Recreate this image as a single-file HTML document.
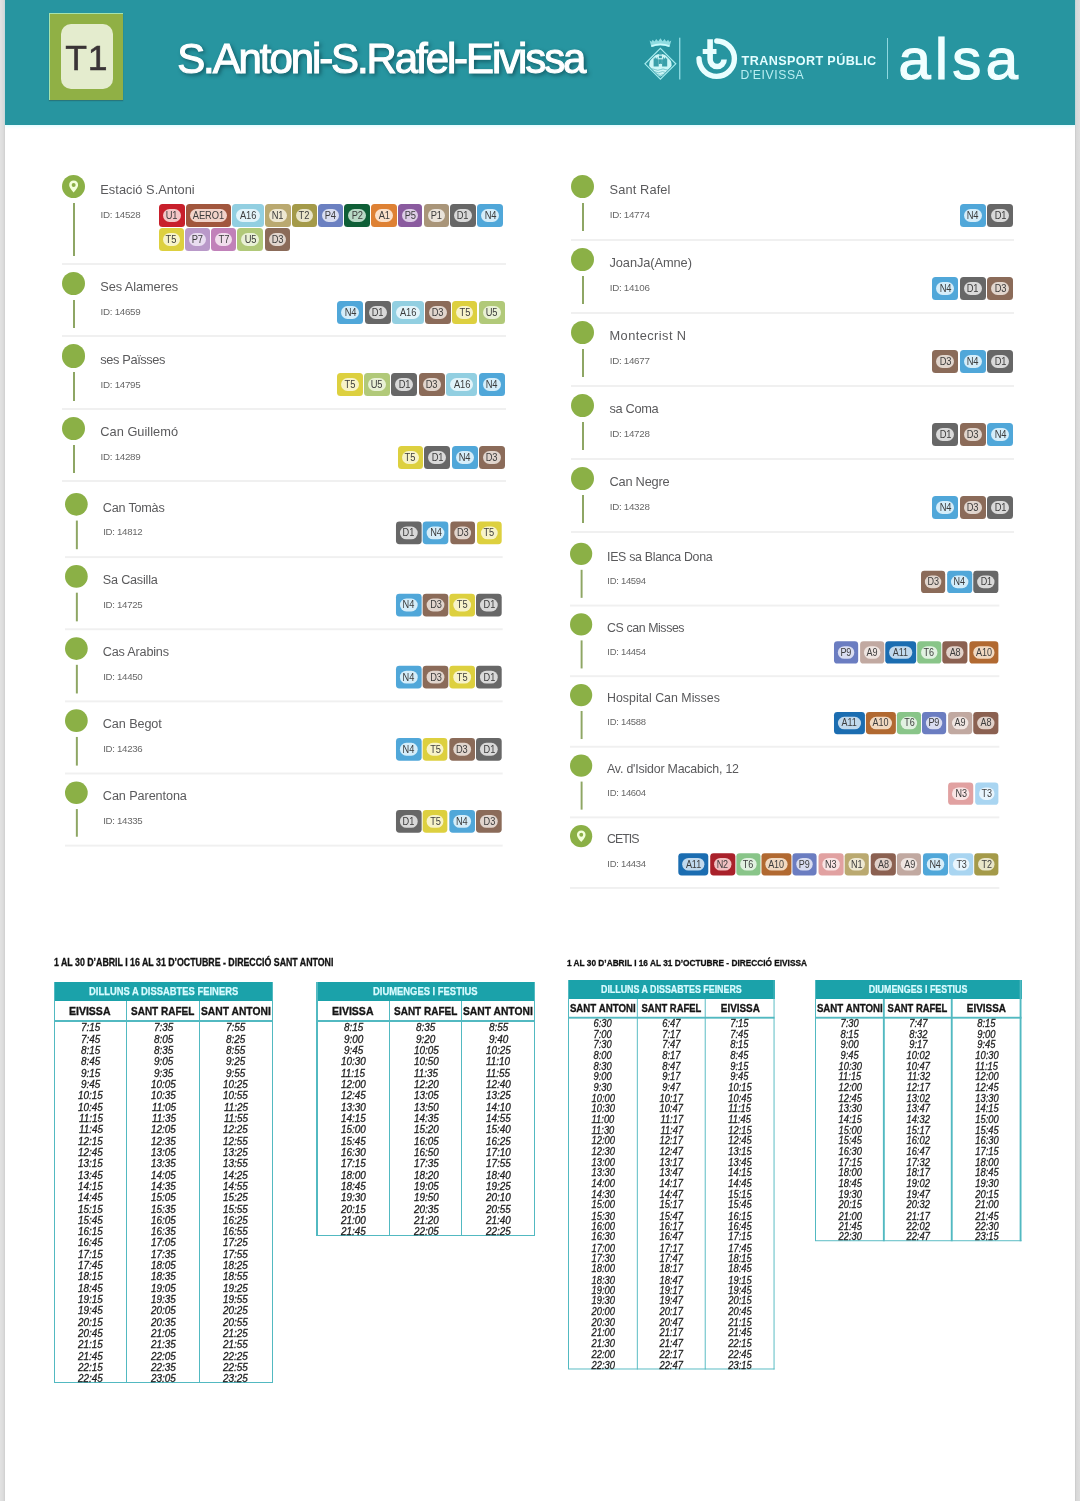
<!DOCTYPE html>
<html lang="ca"><head><meta charset="utf-8"><title>T1 S.Antoni-S.Rafel-Eivissa</title>
<style>
html,body{margin:0;padding:0;background:#fff;}
body{width:1080px;height:1501px;position:relative;overflow:hidden;font-family:"Liberation Sans",sans-serif;}
.abs{position:absolute;}
#page{position:absolute;left:0;top:0;width:1080px;height:1501px;background:#fff;overflow:hidden;}
.edgeL{position:absolute;left:0;top:0;width:5px;height:1501px;background:linear-gradient(90deg,#e2e2e2 0,#dcdcdc 60%,#cfcfcf 100%);}
.edgeR{position:absolute;left:1075px;top:0;width:5px;height:1501px;background:linear-gradient(90deg,#c8c8c8 0,#d8d8d8 30%,#dedede 100%);}
#hdr{position:absolute;left:5px;top:0;width:1070px;height:124.6px;background:#2795a0;box-shadow:0 1px 3px rgba(180,250,255,.5);}
.t1o{position:absolute;left:49.2px;top:12.7px;width:73.9px;height:87.7px;background:#90b045;box-shadow:inset 1px 1px 0 rgba(170,240,200,.8),0 1px 1px rgba(40,90,90,.5);}
.t1i{position:absolute;left:60.7px;top:23.9px;width:51.9px;height:65.1px;border-radius:10px;background:#e4ecce;}
.t1t{position:absolute;left:60.7px;top:26.4px;width:51.9px;height:65px;line-height:65px;text-align:center;font-size:35.6px;color:#3a3436;letter-spacing:0.7px;text-indent:0.2px;-webkit-text-stroke:0.5px #3a3436;}
.title{position:absolute;white-space:nowrap;color:#fff;text-shadow:2px 2px 4px rgba(0,30,40,.6);}
.chunk{position:absolute;transform-origin:0 0;}
.stop{position:absolute;left:0;}
.dot{position:absolute;left:0;top:8px;width:23.3px;height:23.3px;border-radius:50%;background:#8bb046;}
.vl{position:absolute;left:11px;width:1.8px;background:#8ea664;}
.sep{position:absolute;left:0;height:2px;background:#f0f0f0;}
.nm{position:absolute;left:38.3px;white-space:nowrap;font-size:12.8px;color:#5a5a5c;line-height:14px;}
.id{position:absolute;left:38.6px;white-space:nowrap;font-size:9.8px;color:#686868;line-height:10px;letter-spacing:-0.3px;}
.bd{position:absolute;height:23px;border-radius:3.5px;}
.bd i{position:absolute;left:4px;right:4px;top:5px;height:13px;border-radius:6.5px;font-style:normal;font-size:10.4px;line-height:13.6px;text-align:center;color:#3c3c3c;letter-spacing:-0.1px;}
.bd b{display:inline-block;font-weight:normal;transform:scaleX(.9);}
.tt{position:absolute;white-space:nowrap;font-weight:bold;color:#111;transform-origin:0 0;-webkit-text-stroke:0.3px #111;}
.tbl{position:absolute;transform-origin:0 0;}
.band{position:absolute;left:0;top:0;background:#1ba2aa;}
.bt{position:absolute;white-space:nowrap;font-weight:bold;color:#d9fbff;transform-origin:0 0;-webkit-text-stroke:0.25px #d9fbff;}
.ch{position:absolute;white-space:nowrap;font-weight:bold;color:#151515;transform-origin:0 0;-webkit-text-stroke:0.35px #151515;}
.tm{position:absolute;white-space:nowrap;font-style:italic;color:#1c1c1c;transform-origin:0 0;-webkit-text-stroke:0.3px #1c1c1c;}
.ln{position:absolute;background:#52b9c1;}
</style></head><body><div id="page">
<div class="edgeL"></div><div class="edgeR"></div>
<div id="hdr"></div>
<div class="t1o"></div><div class="t1i"></div><div class="t1t">T1</div>

<div class="title" style="left:177.2px;top:34.50px;-webkit-text-stroke:1.1px #fff;font-size:42.0px;line-height:48.30px;letter-spacing:-2.097px;">S.Antoni-S.Rafel-Eivissa</div>
<svg class="abs" style="left:640px;top:30px" width="110" height="60" viewBox="640 30 110 60">
<defs><clipPath id="dm"><path d="M660.4 50.2 L674 63.8 L660.4 77.4 L646.8 63.8 Z"/></clipPath></defs>
<path d="M660.4 48.4 L675.8 63.8 L660.4 79.2 L645 63.8 Z" fill="none" stroke="#a6ecef" stroke-width="1.2"/>
<g clip-path="url(#dm)">
<circle cx="660.4" cy="65.2" r="11.2" fill="#cdf6f7"/>
<g fill="#3a9fa9">
<path d="M653.6 66.6 V58.6 h1.2 v-1.2 h1 v1.2 h1 v-1.2 h1 v1.2 h0.9 V66.6 Z"/>
<path d="M662.1 66.6 V58.6 h0.9 v-1.2 h1 v1.2 h1 v-1.2 h1 v1.2 h1.2 V66.6 Z"/>
<path d="M658.9 64 V51.5 h3 V64 Z"/>
<rect x="657.6" y="54.6" width="5.6" height="1.1" fill="#cdf6f7"/>
<rect x="657.6" y="58.2" width="5.6" height="1.1" fill="#cdf6f7"/>
</g>
<path d="M659.4 66.6 V64.6 L660.4 63.4 L661.4 64.6 V66.6 Z" fill="#cdf6f7"/>
<g fill="none" stroke="#58b3bc" stroke-width="0.7">
<path d="M650 69.6 q2.6 -1.4 5.2 0 t5.2 0 t5.2 0 t5.2 0"/>
<path d="M652 72.2 q2.1 -1.3 4.2 0 t4.2 0 t4.2 0 t4.2 0"/>
<path d="M655 74.8 q1.8 -1.2 3.6 0 t3.6 0 t3.6 0"/>
</g>
</g>
<g fill="#a9eef1">
<path d="M649.6 40.6 L651.6 41.8 L652.6 39.8 L654.6 41.6 L656.2 39 L658.2 41.2 L660.4 38.2 L662.6 41.2 L664.6 39 L666.2 41.6 L668.2 39.8 L669.2 41.8 L671.3 40.6 L669.4 47 Q660.4 43.4 651.4 47 Z" opacity=".8"/>
<path d="M651.2 45.2 Q660.4 41.6 669.6 45.2 L669.3 47.1 Q660.4 43.6 651.5 47.1 Z" fill="#c9fbfc"/>
</g>
<rect x="679" y="37.7" width="1.4" height="41.8" fill="#8ad8df"/>
<g fill="none" stroke="#e9feff">
<path d="M716.8 41 A17.7 17.7 0 1 1 699 58.6" stroke-width="5.4" stroke-linecap="round"/>
<path d="M710.1 39.2 V59.5 A7 7 0 0 0 724.1 59.5" stroke-width="5.6"/>
<path d="M702.7 51.5 H716.5" stroke-width="5"/>
</g>
</svg>
<div class="abs" style="left:741.6px;top:54.1px;font-size:12.6px;line-height:15px;font-weight:bold;color:#e3fdff;white-space:nowrap;letter-spacing:0.39px;">TRANSPORT PÚBLIC</div>
<div class="abs" style="left:740.4px;top:68.2px;font-size:12.2px;line-height:15px;color:#b9eef2;white-space:nowrap;letter-spacing:0.6px;">D'EIVISSA</div>
<div class="abs" style="left:886.8px;top:37.5px;width:1.5px;height:41.8px;background:#8fd8e0;"></div>
<div class="abs" style="left:898.4px;top:23.5px;font-size:58px;line-height:70px;color:#f1ffff;white-space:nowrap;letter-spacing:4.4px;-webkit-text-stroke:1.2px #f1ffff;">alsa</div>

<div class="chunk" style="left:62px;top:166.5px;transform:scale(1);">
<div class="stop" style="top:0.00px;width:443.7px;height:97.25px;">
<div class="dot"></div>
<svg class="abs" style="left:0;top:8px" width="23.3" height="23.3" viewBox="0 0 23.3 23.3"><path fill="#f3ffd9" fill-rule="evenodd" d="M11.65 5.6 C14.3 5.6 16.1 7.5 16.1 9.9 C16.1 12.6 13.2 15.6 11.65 17.4 C10.1 15.6 7.2 12.6 7.2 9.9 C7.2 7.5 9 5.6 11.65 5.6 Z M11.65 8 A2 2 0 1 0 11.65 12 A2 2 0 1 0 11.65 8 Z"/></svg>
<div class="vl" style="top:36px;height:53.05px;"></div>
<div class="nm" style="top:16.31px;letter-spacing:0.033px;">Estació S.Antoni</div>
<div class="id" style="top:43.40px;">ID: 14528</div>
<div class="bd" style="left:96.70px;top:37.20px;width:26.2px;background:#c81f2b;"><i style="background:#f3c6c6;"><b>U1</b></i></div>
<div class="bd" style="left:124.30px;top:37.20px;width:44.5px;background:#a1563d;"><i style="background:#f1d3c9;"><b>AERO1</b></i></div>
<div class="bd" style="left:170.20px;top:37.20px;width:31.4px;background:#92cfe1;"><i style="background:#e2f4fa;"><b>A16</b></i></div>
<div class="bd" style="left:203.00px;top:37.20px;width:25.6px;background:#baa970;"><i style="background:#eee8d2;"><b>N1</b></i></div>
<div class="bd" style="left:230.00px;top:37.20px;width:24.8px;background:#a49a49;"><i style="background:#e9e5c9;"><b>T2</b></i></div>
<div class="bd" style="left:256.20px;top:37.20px;width:24.6px;background:#6b80c1;"><i style="background:#d9def1;"><b>P4</b></i></div>
<div class="bd" style="left:282.20px;top:37.20px;width:25.4px;background:#0f5f37;"><i style="background:#b9d9c6;"><b>P2</b></i></div>
<div class="bd" style="left:309.00px;top:37.20px;width:25.6px;background:#de8134;"><i style="background:#fbe1ca;"><b>A1</b></i></div>
<div class="bd" style="left:336.00px;top:37.20px;width:24.4px;background:#8a5b9f;"><i style="background:#ddcde6;"><b>P5</b></i></div>
<div class="bd" style="left:361.80px;top:37.20px;width:24.8px;background:#a99579;"><i style="background:#e9e2d9;"><b>P1</b></i></div>
<div class="bd" style="left:388.00px;top:37.20px;width:26.0px;background:#676767;"><i style="background:#d9d9d9;"><b>D1</b></i></div>
<div class="bd" style="left:415.40px;top:37.20px;width:26.0px;background:#50a7d9;"><i style="background:#d5edf9;"><b>N4</b></i></div>
<div class="bd" style="left:96.70px;top:61.60px;width:25.3px;background:#ddd03f;"><i style="background:#f7f3c9;"><b>T5</b></i></div>
<div class="bd" style="left:123.40px;top:61.60px;width:24.6px;background:#b999c9;"><i style="background:#e9ddf1;"><b>P7</b></i></div>
<div class="bd" style="left:149.40px;top:61.60px;width:24.4px;background:#c181b9;"><i style="background:#f1ddec;"><b>T7</b></i></div>
<div class="bd" style="left:175.20px;top:61.60px;width:25.9px;background:#b1c979;"><i style="background:#e9f1d5;"><b>U5</b></i></div>
<div class="bd" style="left:202.50px;top:61.60px;width:25.8px;background:#8b6b59;"><i style="background:#e1d5cd;"><b>D3</b></i></div>
<div class="sep" style="top:96.25px;width:443.7px;"></div>
</div>
<div class="stop" style="top:97.25px;width:443.7px;height:72.50px;">
<div class="dot"></div>
<div class="vl" style="top:36px;height:28.30px;"></div>
<div class="nm" style="top:16.31px;letter-spacing:-0.109px;">Ses Alameres</div>
<div class="id" style="top:43.40px;">ID: 14659</div>
<div class="bd" style="left:416.90px;top:37.2px;width:25.9px;background:#b1c979;"><i style="background:#e9f1d5;"><b>U5</b></i></div>
<div class="bd" style="left:390.20px;top:37.2px;width:25.3px;background:#ddd03f;"><i style="background:#f7f3c9;"><b>T5</b></i></div>
<div class="bd" style="left:363.00px;top:37.2px;width:25.8px;background:#8b6b59;"><i style="background:#e1d5cd;"><b>D3</b></i></div>
<div class="bd" style="left:330.20px;top:37.2px;width:31.4px;background:#92cfe1;"><i style="background:#e2f4fa;"><b>A16</b></i></div>
<div class="bd" style="left:302.80px;top:37.2px;width:26.0px;background:#676767;"><i style="background:#d9d9d9;"><b>D1</b></i></div>
<div class="bd" style="left:275.40px;top:37.2px;width:26.0px;background:#50a7d9;"><i style="background:#d5edf9;"><b>N4</b></i></div>
<div class="sep" style="top:71.50px;width:443.7px;"></div>
</div>
<div class="stop" style="top:169.75px;width:443.7px;height:72.50px;">
<div class="dot"></div>
<div class="vl" style="top:36px;height:28.30px;"></div>
<div class="nm" style="top:16.31px;letter-spacing:-0.380px;">ses Païsses</div>
<div class="id" style="top:43.40px;">ID: 14795</div>
<div class="bd" style="left:416.80px;top:37.2px;width:26.0px;background:#50a7d9;"><i style="background:#d5edf9;"><b>N4</b></i></div>
<div class="bd" style="left:384.00px;top:37.2px;width:31.4px;background:#92cfe1;"><i style="background:#e2f4fa;"><b>A16</b></i></div>
<div class="bd" style="left:356.80px;top:37.2px;width:25.8px;background:#8b6b59;"><i style="background:#e1d5cd;"><b>D3</b></i></div>
<div class="bd" style="left:329.40px;top:37.2px;width:26.0px;background:#676767;"><i style="background:#d9d9d9;"><b>D1</b></i></div>
<div class="bd" style="left:302.10px;top:37.2px;width:25.9px;background:#b1c979;"><i style="background:#e9f1d5;"><b>U5</b></i></div>
<div class="bd" style="left:275.40px;top:37.2px;width:25.3px;background:#ddd03f;"><i style="background:#f7f3c9;"><b>T5</b></i></div>
<div class="sep" style="top:71.50px;width:443.7px;"></div>
</div>
<div class="stop" style="top:242.25px;width:443.7px;height:72.50px;">
<div class="dot"></div>
<div class="vl" style="top:36px;height:28.30px;"></div>
<div class="nm" style="top:16.31px;letter-spacing:0.018px;">Can Guillemó</div>
<div class="id" style="top:43.40px;">ID: 14289</div>
<div class="bd" style="left:417.00px;top:37.2px;width:25.8px;background:#8b6b59;"><i style="background:#e1d5cd;"><b>D3</b></i></div>
<div class="bd" style="left:389.60px;top:37.2px;width:26.0px;background:#50a7d9;"><i style="background:#d5edf9;"><b>N4</b></i></div>
<div class="bd" style="left:362.20px;top:37.2px;width:26.0px;background:#676767;"><i style="background:#d9d9d9;"><b>D1</b></i></div>
<div class="bd" style="left:335.50px;top:37.2px;width:25.3px;background:#ddd03f;"><i style="background:#f7f3c9;"><b>T5</b></i></div>
<div class="sep" style="top:71.50px;width:443.7px;"></div>
</div>
</div>
<div class="chunk" style="left:64.6px;top:484.75px;transform:scale(0.988);">
<div class="stop" style="top:0.00px;width:443px;height:72.94px;">
<div class="dot"></div>
<div class="vl" style="top:36px;height:28.74px;"></div>
<div class="nm" style="top:16.31px;letter-spacing:-0.228px;">Can Tomàs</div>
<div class="id" style="top:43.40px;">ID: 14812</div>
<div class="bd" style="left:416.80px;top:37.2px;width:25.3px;background:#ddd03f;"><i style="background:#f7f3c9;"><b>T5</b></i></div>
<div class="bd" style="left:389.60px;top:37.2px;width:25.8px;background:#8b6b59;"><i style="background:#e1d5cd;"><b>D3</b></i></div>
<div class="bd" style="left:362.20px;top:37.2px;width:26.0px;background:#50a7d9;"><i style="background:#d5edf9;"><b>N4</b></i></div>
<div class="bd" style="left:334.80px;top:37.2px;width:26.0px;background:#676767;"><i style="background:#d9d9d9;"><b>D1</b></i></div>
<div class="sep" style="top:71.94px;width:443px;"></div>
</div>
<div class="stop" style="top:72.94px;width:443px;height:72.94px;">
<div class="dot"></div>
<div class="vl" style="top:36px;height:28.74px;"></div>
<div class="nm" style="top:16.31px;letter-spacing:-0.225px;">Sa Casilla</div>
<div class="id" style="top:43.40px;">ID: 14725</div>
<div class="bd" style="left:416.10px;top:37.2px;width:26.0px;background:#676767;"><i style="background:#d9d9d9;"><b>D1</b></i></div>
<div class="bd" style="left:389.40px;top:37.2px;width:25.3px;background:#ddd03f;"><i style="background:#f7f3c9;"><b>T5</b></i></div>
<div class="bd" style="left:362.20px;top:37.2px;width:25.8px;background:#8b6b59;"><i style="background:#e1d5cd;"><b>D3</b></i></div>
<div class="bd" style="left:334.80px;top:37.2px;width:26.0px;background:#50a7d9;"><i style="background:#d5edf9;"><b>N4</b></i></div>
<div class="sep" style="top:71.94px;width:443px;"></div>
</div>
<div class="stop" style="top:145.87px;width:443px;height:72.94px;">
<div class="dot"></div>
<div class="vl" style="top:36px;height:28.74px;"></div>
<div class="nm" style="top:16.31px;letter-spacing:-0.202px;">Cas Arabins</div>
<div class="id" style="top:43.40px;">ID: 14450</div>
<div class="bd" style="left:416.10px;top:37.2px;width:26.0px;background:#676767;"><i style="background:#d9d9d9;"><b>D1</b></i></div>
<div class="bd" style="left:389.40px;top:37.2px;width:25.3px;background:#ddd03f;"><i style="background:#f7f3c9;"><b>T5</b></i></div>
<div class="bd" style="left:362.20px;top:37.2px;width:25.8px;background:#8b6b59;"><i style="background:#e1d5cd;"><b>D3</b></i></div>
<div class="bd" style="left:334.80px;top:37.2px;width:26.0px;background:#50a7d9;"><i style="background:#d5edf9;"><b>N4</b></i></div>
<div class="sep" style="top:71.94px;width:443px;"></div>
</div>
<div class="stop" style="top:218.81px;width:443px;height:72.94px;">
<div class="dot"></div>
<div class="vl" style="top:36px;height:28.74px;"></div>
<div class="nm" style="top:16.31px;letter-spacing:-0.101px;">Can Begot</div>
<div class="id" style="top:43.40px;">ID: 14236</div>
<div class="bd" style="left:416.10px;top:37.2px;width:26.0px;background:#676767;"><i style="background:#d9d9d9;"><b>D1</b></i></div>
<div class="bd" style="left:388.90px;top:37.2px;width:25.8px;background:#8b6b59;"><i style="background:#e1d5cd;"><b>D3</b></i></div>
<div class="bd" style="left:362.20px;top:37.2px;width:25.3px;background:#ddd03f;"><i style="background:#f7f3c9;"><b>T5</b></i></div>
<div class="bd" style="left:334.80px;top:37.2px;width:26.0px;background:#50a7d9;"><i style="background:#d5edf9;"><b>N4</b></i></div>
<div class="sep" style="top:71.94px;width:443px;"></div>
</div>
<div class="stop" style="top:291.74px;width:443px;height:72.94px;">
<div class="dot"></div>
<div class="vl" style="top:36px;height:28.74px;"></div>
<div class="nm" style="top:16.31px;letter-spacing:-0.084px;">Can Parentona</div>
<div class="id" style="top:43.40px;">ID: 14335</div>
<div class="bd" style="left:416.30px;top:37.2px;width:25.8px;background:#8b6b59;"><i style="background:#e1d5cd;"><b>D3</b></i></div>
<div class="bd" style="left:388.90px;top:37.2px;width:26.0px;background:#50a7d9;"><i style="background:#d5edf9;"><b>N4</b></i></div>
<div class="bd" style="left:362.20px;top:37.2px;width:25.3px;background:#ddd03f;"><i style="background:#f7f3c9;"><b>T5</b></i></div>
<div class="bd" style="left:334.80px;top:37.2px;width:26.0px;background:#676767;"><i style="background:#d9d9d9;"><b>D1</b></i></div>
<div class="sep" style="top:71.94px;width:443px;"></div>
</div>
</div>
<div class="chunk" style="left:571.2px;top:166.5px;transform:scale(1);">
<div class="stop" style="top:0.00px;width:442.8px;height:73.00px;">
<div class="dot"></div>
<div class="vl" style="top:36px;height:28.80px;"></div>
<div class="nm" style="top:16.31px;letter-spacing:0.133px;">Sant Rafel</div>
<div class="id" style="top:43.40px;">ID: 14774</div>
<div class="bd" style="left:415.90px;top:37.2px;width:26.0px;background:#676767;"><i style="background:#d9d9d9;"><b>D1</b></i></div>
<div class="bd" style="left:388.50px;top:37.2px;width:26.0px;background:#50a7d9;"><i style="background:#d5edf9;"><b>N4</b></i></div>
<div class="sep" style="top:72.00px;width:442.8px;"></div>
</div>
<div class="stop" style="top:73.00px;width:442.8px;height:73.00px;">
<div class="dot"></div>
<div class="vl" style="top:36px;height:28.80px;"></div>
<div class="nm" style="top:16.31px;letter-spacing:-0.073px;">JoanJa(Amne)</div>
<div class="id" style="top:43.40px;">ID: 14106</div>
<div class="bd" style="left:416.10px;top:37.2px;width:25.8px;background:#8b6b59;"><i style="background:#e1d5cd;"><b>D3</b></i></div>
<div class="bd" style="left:388.70px;top:37.2px;width:26.0px;background:#676767;"><i style="background:#d9d9d9;"><b>D1</b></i></div>
<div class="bd" style="left:361.30px;top:37.2px;width:26.0px;background:#50a7d9;"><i style="background:#d5edf9;"><b>N4</b></i></div>
<div class="sep" style="top:72.00px;width:442.8px;"></div>
</div>
<div class="stop" style="top:146.00px;width:442.8px;height:73.00px;">
<div class="dot"></div>
<div class="vl" style="top:36px;height:28.80px;"></div>
<div class="nm" style="top:16.31px;letter-spacing:0.436px;">Montecrist N</div>
<div class="id" style="top:43.40px;">ID: 14677</div>
<div class="bd" style="left:415.90px;top:37.2px;width:26.0px;background:#676767;"><i style="background:#d9d9d9;"><b>D1</b></i></div>
<div class="bd" style="left:388.50px;top:37.2px;width:26.0px;background:#50a7d9;"><i style="background:#d5edf9;"><b>N4</b></i></div>
<div class="bd" style="left:361.30px;top:37.2px;width:25.8px;background:#8b6b59;"><i style="background:#e1d5cd;"><b>D3</b></i></div>
<div class="sep" style="top:72.00px;width:442.8px;"></div>
</div>
<div class="stop" style="top:219.00px;width:442.8px;height:73.00px;">
<div class="dot"></div>
<div class="vl" style="top:36px;height:28.80px;"></div>
<div class="nm" style="top:16.31px;letter-spacing:-0.333px;">sa Coma</div>
<div class="id" style="top:43.40px;">ID: 14728</div>
<div class="bd" style="left:415.90px;top:37.2px;width:26.0px;background:#50a7d9;"><i style="background:#d5edf9;"><b>N4</b></i></div>
<div class="bd" style="left:388.70px;top:37.2px;width:25.8px;background:#8b6b59;"><i style="background:#e1d5cd;"><b>D3</b></i></div>
<div class="bd" style="left:361.30px;top:37.2px;width:26.0px;background:#676767;"><i style="background:#d9d9d9;"><b>D1</b></i></div>
<div class="sep" style="top:72.00px;width:442.8px;"></div>
</div>
<div class="stop" style="top:292.00px;width:442.8px;height:73.00px;">
<div class="dot"></div>
<div class="vl" style="top:36px;height:28.80px;"></div>
<div class="nm" style="top:16.31px;letter-spacing:-0.225px;">Can Negre</div>
<div class="id" style="top:43.40px;">ID: 14328</div>
<div class="bd" style="left:415.90px;top:37.2px;width:26.0px;background:#676767;"><i style="background:#d9d9d9;"><b>D1</b></i></div>
<div class="bd" style="left:388.70px;top:37.2px;width:25.8px;background:#8b6b59;"><i style="background:#e1d5cd;"><b>D3</b></i></div>
<div class="bd" style="left:361.30px;top:37.2px;width:26.0px;background:#50a7d9;"><i style="background:#d5edf9;"><b>N4</b></i></div>
<div class="sep" style="top:72.00px;width:442.8px;"></div>
</div>
</div>
<div class="chunk" style="left:570.3px;top:535.1px;transform:scale(0.967);">
<div class="stop" style="top:0.00px;width:444.1px;height:73.01px;">
<div class="dot"></div>
<div class="vl" style="top:36px;height:28.81px;"></div>
<div class="nm" style="top:16.31px;letter-spacing:-0.316px;">IES sa Blanca Dona</div>
<div class="id" style="top:43.40px;">ID: 14594</div>
<div class="bd" style="left:417.20px;top:37.2px;width:26.0px;background:#676767;"><i style="background:#d9d9d9;"><b>D1</b></i></div>
<div class="bd" style="left:389.80px;top:37.2px;width:26.0px;background:#50a7d9;"><i style="background:#d5edf9;"><b>N4</b></i></div>
<div class="bd" style="left:362.60px;top:37.2px;width:25.8px;background:#8b6b59;"><i style="background:#e1d5cd;"><b>D3</b></i></div>
<div class="sep" style="top:72.01px;width:444.1px;"></div>
</div>
<div class="stop" style="top:73.01px;width:444.1px;height:73.01px;">
<div class="dot"></div>
<div class="vl" style="top:36px;height:28.81px;"></div>
<div class="nm" style="top:16.31px;letter-spacing:-0.431px;">CS can Misses</div>
<div class="id" style="top:43.40px;">ID: 14454</div>
<div class="bd" style="left:412.50px;top:37.2px;width:30.7px;background:#b16931;"><i style="background:#f1d9c1;"><b>A10</b></i></div>
<div class="bd" style="left:385.10px;top:37.2px;width:26px;background:#8b6151;"><i style="background:#e1d1c9;"><b>A8</b></i></div>
<div class="bd" style="left:359.20px;top:37.2px;width:24.5px;background:#89c589;"><i style="background:#e1f1e1;"><b>T6</b></i></div>
<div class="bd" style="left:326.20px;top:37.2px;width:31.6px;background:#1b6db1;"><i style="background:#c1d9ed;"><b>A11</b></i></div>
<div class="bd" style="left:299.60px;top:37.2px;width:25.2px;background:#c1a9a1;"><i style="background:#efe5e1;"><b>A9</b></i></div>
<div class="bd" style="left:273.20px;top:37.2px;width:25px;background:#6b7dc1;"><i style="background:#d9ddf1;"><b>P9</b></i></div>
<div class="sep" style="top:72.01px;width:444.1px;"></div>
</div>
<div class="stop" style="top:146.02px;width:444.1px;height:73.01px;">
<div class="dot"></div>
<div class="vl" style="top:36px;height:28.81px;"></div>
<div class="nm" style="top:16.31px;letter-spacing:0.000px;">Hospital Can Misses</div>
<div class="id" style="top:43.40px;">ID: 14588</div>
<div class="bd" style="left:417.20px;top:37.2px;width:26px;background:#8b6151;"><i style="background:#e1d1c9;"><b>A8</b></i></div>
<div class="bd" style="left:390.60px;top:37.2px;width:25.2px;background:#c1a9a1;"><i style="background:#efe5e1;"><b>A9</b></i></div>
<div class="bd" style="left:364.20px;top:37.2px;width:25px;background:#6b7dc1;"><i style="background:#d9ddf1;"><b>P9</b></i></div>
<div class="bd" style="left:338.30px;top:37.2px;width:24.5px;background:#89c589;"><i style="background:#e1f1e1;"><b>T6</b></i></div>
<div class="bd" style="left:306.20px;top:37.2px;width:30.7px;background:#b16931;"><i style="background:#f1d9c1;"><b>A10</b></i></div>
<div class="bd" style="left:273.20px;top:37.2px;width:31.6px;background:#1b6db1;"><i style="background:#c1d9ed;"><b>A11</b></i></div>
<div class="sep" style="top:72.01px;width:444.1px;"></div>
</div>
<div class="stop" style="top:219.03px;width:444.1px;height:73.01px;">
<div class="dot"></div>
<div class="vl" style="top:36px;height:28.81px;"></div>
<div class="nm" style="top:16.31px;letter-spacing:-0.207px;">Av. d'Isidor Macabich, 12</div>
<div class="id" style="top:43.40px;">ID: 14604</div>
<div class="bd" style="left:418.50px;top:37.2px;width:24.7px;background:#a9d5f1;"><i style="background:#e9f5fd;"><b>T3</b></i></div>
<div class="bd" style="left:391.10px;top:37.2px;width:26px;background:#e1a1a1;"><i style="background:#f9e5e5;"><b>N3</b></i></div>
<div class="sep" style="top:72.01px;width:444.1px;"></div>
</div>
<div class="stop" style="top:292.04px;width:444.1px;height:73.01px;">
<div class="dot"></div>
<svg class="abs" style="left:0;top:8px" width="23.3" height="23.3" viewBox="0 0 23.3 23.3"><path fill="#f3ffd9" fill-rule="evenodd" d="M11.65 5.6 C14.3 5.6 16.1 7.5 16.1 9.9 C16.1 12.6 13.2 15.6 11.65 17.4 C10.1 15.6 7.2 12.6 7.2 9.9 C7.2 7.5 9 5.6 11.65 5.6 Z M11.65 8 A2 2 0 1 0 11.65 12 A2 2 0 1 0 11.65 8 Z"/></svg>
<div class="nm" style="top:16.31px;letter-spacing:-1.034px;">CETIS</div>
<div class="id" style="top:43.40px;">ID: 14434</div>
<div class="bd" style="left:418.40px;top:37.2px;width:24.8px;background:#a49a49;"><i style="background:#e9e5c9;"><b>T2</b></i></div>
<div class="bd" style="left:392.30px;top:37.2px;width:24.7px;background:#a9d5f1;"><i style="background:#e9f5fd;"><b>T3</b></i></div>
<div class="bd" style="left:364.90px;top:37.2px;width:26.0px;background:#50a7d9;"><i style="background:#d5edf9;"><b>N4</b></i></div>
<div class="bd" style="left:338.30px;top:37.2px;width:25.2px;background:#c1a9a1;"><i style="background:#efe5e1;"><b>A9</b></i></div>
<div class="bd" style="left:310.90px;top:37.2px;width:26px;background:#8b6151;"><i style="background:#e1d1c9;"><b>A8</b></i></div>
<div class="bd" style="left:283.90px;top:37.2px;width:25.6px;background:#baa970;"><i style="background:#eee8d2;"><b>N1</b></i></div>
<div class="bd" style="left:256.50px;top:37.2px;width:26px;background:#e1a1a1;"><i style="background:#f9e5e5;"><b>N3</b></i></div>
<div class="bd" style="left:230.10px;top:37.2px;width:25px;background:#6b7dc1;"><i style="background:#d9ddf1;"><b>P9</b></i></div>
<div class="bd" style="left:198.00px;top:37.2px;width:30.7px;background:#b16931;"><i style="background:#f1d9c1;"><b>A10</b></i></div>
<div class="bd" style="left:172.10px;top:37.2px;width:24.5px;background:#89c589;"><i style="background:#e1f1e1;"><b>T6</b></i></div>
<div class="bd" style="left:144.70px;top:37.2px;width:26px;background:#a9212a;"><i style="background:#f1c1c1;"><b>N2</b></i></div>
<div class="bd" style="left:111.70px;top:37.2px;width:31.6px;background:#1b6db1;"><i style="background:#c1d9ed;"><b>A11</b></i></div>
<div class="sep" style="top:72.01px;width:444.1px;"></div>
</div>
</div>
<div class="tt" style="left:53.6px;top:956.73px;font-size:10.3px;line-height:12px;transform:scaleX(0.8543);">1 AL 30 D’ABRIL I 16 AL 31 D’OCTUBRE - DIRECCIÓ SANT ANTONI</div>
<div class="tt" style="left:567.4px;top:956.54px;font-size:9.7px;line-height:12px;transform:scaleX(0.8562);">1 AL 30 D’ABRIL I 16 AL 31 D’OCTUBRE - DIRECCIÓ EIVISSA</div>
<div class="tbl" style="left:53.75px;top:981.75px;transform:scale(1);">
<div class="band" style="width:219.25px;height:19.5px;"></div>
<div class="bt" style="left:34.97px;top:3.68px;font-size:11.3px;line-height:13px;transform:scaleX(0.8324);">DILLUNS A DISSABTES FEINERS</div>
<div class="ln" style="left:0;top:0;width:1.4px;height:401.17px;"></div>
<div class="ln" style="left:217.85px;top:0;width:1.4px;height:401.17px;"></div>
<div class="ln" style="left:0;top:38.50px;width:219.25px;height:1.4px;"></div>
<div class="ln" style="left:0;top:400.07px;width:219.25px;height:1.1px;"></div>
<div class="ln" style="left:71.85px;top:19.5px;width:1.3px;height:381.67px;"></div>
<div class="ln" style="left:144.85px;top:19.5px;width:1.3px;height:381.67px;"></div>
<div class="ch" style="left:15.50px;top:23.55px;font-size:11.4px;line-height:13px;transform:scaleX(0.9226);">EIVISSA</div>
<div class="ch" style="left:77.30px;top:23.55px;font-size:11.4px;line-height:13px;transform:scaleX(0.8781);">SANT RAFEL</div>
<div class="ch" style="left:147.47px;top:23.55px;font-size:11.4px;line-height:13px;transform:scaleX(0.9033);">SANT ANTONI</div>
<div class="tm" style="left:27.35px;top:39.63px;font-size:11.6px;line-height:12px;transform:scaleX(0.855);">7:15</div>
<div class="tm" style="left:100.15px;top:39.63px;font-size:11.6px;line-height:12px;transform:scaleX(0.855);">7:35</div>
<div class="tm" style="left:172.45px;top:39.63px;font-size:11.6px;line-height:12px;transform:scaleX(0.855);">7:55</div>
<div class="tm" style="left:27.35px;top:50.95px;font-size:11.6px;line-height:12px;transform:scaleX(0.855);">7:45</div>
<div class="tm" style="left:100.15px;top:50.95px;font-size:11.6px;line-height:12px;transform:scaleX(0.855);">8:05</div>
<div class="tm" style="left:172.45px;top:50.95px;font-size:11.6px;line-height:12px;transform:scaleX(0.855);">8:25</div>
<div class="tm" style="left:27.35px;top:62.27px;font-size:11.6px;line-height:12px;transform:scaleX(0.855);">8:15</div>
<div class="tm" style="left:100.15px;top:62.27px;font-size:11.6px;line-height:12px;transform:scaleX(0.855);">8:35</div>
<div class="tm" style="left:172.45px;top:62.27px;font-size:11.6px;line-height:12px;transform:scaleX(0.855);">8:55</div>
<div class="tm" style="left:27.35px;top:73.59px;font-size:11.6px;line-height:12px;transform:scaleX(0.855);">8:45</div>
<div class="tm" style="left:100.15px;top:73.59px;font-size:11.6px;line-height:12px;transform:scaleX(0.855);">9:05</div>
<div class="tm" style="left:172.45px;top:73.59px;font-size:11.6px;line-height:12px;transform:scaleX(0.855);">9:25</div>
<div class="tm" style="left:27.35px;top:84.91px;font-size:11.6px;line-height:12px;transform:scaleX(0.855);">9:15</div>
<div class="tm" style="left:100.15px;top:84.91px;font-size:11.6px;line-height:12px;transform:scaleX(0.855);">9:35</div>
<div class="tm" style="left:172.45px;top:84.91px;font-size:11.6px;line-height:12px;transform:scaleX(0.855);">9:55</div>
<div class="tm" style="left:27.35px;top:96.23px;font-size:11.6px;line-height:12px;transform:scaleX(0.855);">9:45</div>
<div class="tm" style="left:97.39px;top:96.23px;font-size:11.6px;line-height:12px;transform:scaleX(0.855);">10:05</div>
<div class="tm" style="left:169.69px;top:96.23px;font-size:11.6px;line-height:12px;transform:scaleX(0.855);">10:25</div>
<div class="tm" style="left:24.59px;top:107.55px;font-size:11.6px;line-height:12px;transform:scaleX(0.855);">10:15</div>
<div class="tm" style="left:97.39px;top:107.55px;font-size:11.6px;line-height:12px;transform:scaleX(0.855);">10:35</div>
<div class="tm" style="left:169.69px;top:107.55px;font-size:11.6px;line-height:12px;transform:scaleX(0.855);">10:55</div>
<div class="tm" style="left:24.59px;top:118.87px;font-size:11.6px;line-height:12px;transform:scaleX(0.855);">10:45</div>
<div class="tm" style="left:97.76px;top:118.87px;font-size:11.6px;line-height:12px;transform:scaleX(0.855);">11:05</div>
<div class="tm" style="left:170.06px;top:118.87px;font-size:11.6px;line-height:12px;transform:scaleX(0.855);">11:25</div>
<div class="tm" style="left:24.96px;top:130.19px;font-size:11.6px;line-height:12px;transform:scaleX(0.855);">11:15</div>
<div class="tm" style="left:97.76px;top:130.19px;font-size:11.6px;line-height:12px;transform:scaleX(0.855);">11:35</div>
<div class="tm" style="left:170.06px;top:130.19px;font-size:11.6px;line-height:12px;transform:scaleX(0.855);">11:55</div>
<div class="tm" style="left:24.96px;top:141.51px;font-size:11.6px;line-height:12px;transform:scaleX(0.855);">11:45</div>
<div class="tm" style="left:97.39px;top:141.51px;font-size:11.6px;line-height:12px;transform:scaleX(0.855);">12:05</div>
<div class="tm" style="left:169.69px;top:141.51px;font-size:11.6px;line-height:12px;transform:scaleX(0.855);">12:25</div>
<div class="tm" style="left:24.59px;top:152.83px;font-size:11.6px;line-height:12px;transform:scaleX(0.855);">12:15</div>
<div class="tm" style="left:97.39px;top:152.83px;font-size:11.6px;line-height:12px;transform:scaleX(0.855);">12:35</div>
<div class="tm" style="left:169.69px;top:152.83px;font-size:11.6px;line-height:12px;transform:scaleX(0.855);">12:55</div>
<div class="tm" style="left:24.59px;top:164.15px;font-size:11.6px;line-height:12px;transform:scaleX(0.855);">12:45</div>
<div class="tm" style="left:97.39px;top:164.15px;font-size:11.6px;line-height:12px;transform:scaleX(0.855);">13:05</div>
<div class="tm" style="left:169.69px;top:164.15px;font-size:11.6px;line-height:12px;transform:scaleX(0.855);">13:25</div>
<div class="tm" style="left:24.59px;top:175.47px;font-size:11.6px;line-height:12px;transform:scaleX(0.855);">13:15</div>
<div class="tm" style="left:97.39px;top:175.47px;font-size:11.6px;line-height:12px;transform:scaleX(0.855);">13:35</div>
<div class="tm" style="left:169.69px;top:175.47px;font-size:11.6px;line-height:12px;transform:scaleX(0.855);">13:55</div>
<div class="tm" style="left:24.59px;top:186.79px;font-size:11.6px;line-height:12px;transform:scaleX(0.855);">13:45</div>
<div class="tm" style="left:97.39px;top:186.79px;font-size:11.6px;line-height:12px;transform:scaleX(0.855);">14:05</div>
<div class="tm" style="left:169.69px;top:186.79px;font-size:11.6px;line-height:12px;transform:scaleX(0.855);">14:25</div>
<div class="tm" style="left:24.59px;top:198.11px;font-size:11.6px;line-height:12px;transform:scaleX(0.855);">14:15</div>
<div class="tm" style="left:97.39px;top:198.11px;font-size:11.6px;line-height:12px;transform:scaleX(0.855);">14:35</div>
<div class="tm" style="left:169.69px;top:198.11px;font-size:11.6px;line-height:12px;transform:scaleX(0.855);">14:55</div>
<div class="tm" style="left:24.59px;top:209.43px;font-size:11.6px;line-height:12px;transform:scaleX(0.855);">14:45</div>
<div class="tm" style="left:97.39px;top:209.43px;font-size:11.6px;line-height:12px;transform:scaleX(0.855);">15:05</div>
<div class="tm" style="left:169.69px;top:209.43px;font-size:11.6px;line-height:12px;transform:scaleX(0.855);">15:25</div>
<div class="tm" style="left:24.59px;top:220.75px;font-size:11.6px;line-height:12px;transform:scaleX(0.855);">15:15</div>
<div class="tm" style="left:97.39px;top:220.75px;font-size:11.6px;line-height:12px;transform:scaleX(0.855);">15:35</div>
<div class="tm" style="left:169.69px;top:220.75px;font-size:11.6px;line-height:12px;transform:scaleX(0.855);">15:55</div>
<div class="tm" style="left:24.59px;top:232.07px;font-size:11.6px;line-height:12px;transform:scaleX(0.855);">15:45</div>
<div class="tm" style="left:97.39px;top:232.07px;font-size:11.6px;line-height:12px;transform:scaleX(0.855);">16:05</div>
<div class="tm" style="left:169.69px;top:232.07px;font-size:11.6px;line-height:12px;transform:scaleX(0.855);">16:25</div>
<div class="tm" style="left:24.59px;top:243.39px;font-size:11.6px;line-height:12px;transform:scaleX(0.855);">16:15</div>
<div class="tm" style="left:97.39px;top:243.39px;font-size:11.6px;line-height:12px;transform:scaleX(0.855);">16:35</div>
<div class="tm" style="left:169.69px;top:243.39px;font-size:11.6px;line-height:12px;transform:scaleX(0.855);">16:55</div>
<div class="tm" style="left:24.59px;top:254.71px;font-size:11.6px;line-height:12px;transform:scaleX(0.855);">16:45</div>
<div class="tm" style="left:97.39px;top:254.71px;font-size:11.6px;line-height:12px;transform:scaleX(0.855);">17:05</div>
<div class="tm" style="left:169.69px;top:254.71px;font-size:11.6px;line-height:12px;transform:scaleX(0.855);">17:25</div>
<div class="tm" style="left:24.59px;top:266.03px;font-size:11.6px;line-height:12px;transform:scaleX(0.855);">17:15</div>
<div class="tm" style="left:97.39px;top:266.03px;font-size:11.6px;line-height:12px;transform:scaleX(0.855);">17:35</div>
<div class="tm" style="left:169.69px;top:266.03px;font-size:11.6px;line-height:12px;transform:scaleX(0.855);">17:55</div>
<div class="tm" style="left:24.59px;top:277.35px;font-size:11.6px;line-height:12px;transform:scaleX(0.855);">17:45</div>
<div class="tm" style="left:97.39px;top:277.35px;font-size:11.6px;line-height:12px;transform:scaleX(0.855);">18:05</div>
<div class="tm" style="left:169.69px;top:277.35px;font-size:11.6px;line-height:12px;transform:scaleX(0.855);">18:25</div>
<div class="tm" style="left:24.59px;top:288.67px;font-size:11.6px;line-height:12px;transform:scaleX(0.855);">18:15</div>
<div class="tm" style="left:97.39px;top:288.67px;font-size:11.6px;line-height:12px;transform:scaleX(0.855);">18:35</div>
<div class="tm" style="left:169.69px;top:288.67px;font-size:11.6px;line-height:12px;transform:scaleX(0.855);">18:55</div>
<div class="tm" style="left:24.59px;top:299.99px;font-size:11.6px;line-height:12px;transform:scaleX(0.855);">18:45</div>
<div class="tm" style="left:97.39px;top:299.99px;font-size:11.6px;line-height:12px;transform:scaleX(0.855);">19:05</div>
<div class="tm" style="left:169.69px;top:299.99px;font-size:11.6px;line-height:12px;transform:scaleX(0.855);">19:25</div>
<div class="tm" style="left:24.59px;top:311.31px;font-size:11.6px;line-height:12px;transform:scaleX(0.855);">19:15</div>
<div class="tm" style="left:97.39px;top:311.31px;font-size:11.6px;line-height:12px;transform:scaleX(0.855);">19:35</div>
<div class="tm" style="left:169.69px;top:311.31px;font-size:11.6px;line-height:12px;transform:scaleX(0.855);">19:55</div>
<div class="tm" style="left:24.59px;top:322.63px;font-size:11.6px;line-height:12px;transform:scaleX(0.855);">19:45</div>
<div class="tm" style="left:97.39px;top:322.63px;font-size:11.6px;line-height:12px;transform:scaleX(0.855);">20:05</div>
<div class="tm" style="left:169.69px;top:322.63px;font-size:11.6px;line-height:12px;transform:scaleX(0.855);">20:25</div>
<div class="tm" style="left:24.59px;top:333.95px;font-size:11.6px;line-height:12px;transform:scaleX(0.855);">20:15</div>
<div class="tm" style="left:97.39px;top:333.95px;font-size:11.6px;line-height:12px;transform:scaleX(0.855);">20:35</div>
<div class="tm" style="left:169.69px;top:333.95px;font-size:11.6px;line-height:12px;transform:scaleX(0.855);">20:55</div>
<div class="tm" style="left:24.59px;top:345.27px;font-size:11.6px;line-height:12px;transform:scaleX(0.855);">20:45</div>
<div class="tm" style="left:97.39px;top:345.27px;font-size:11.6px;line-height:12px;transform:scaleX(0.855);">21:05</div>
<div class="tm" style="left:169.69px;top:345.27px;font-size:11.6px;line-height:12px;transform:scaleX(0.855);">21:25</div>
<div class="tm" style="left:24.59px;top:356.59px;font-size:11.6px;line-height:12px;transform:scaleX(0.855);">21:15</div>
<div class="tm" style="left:97.39px;top:356.59px;font-size:11.6px;line-height:12px;transform:scaleX(0.855);">21:35</div>
<div class="tm" style="left:169.69px;top:356.59px;font-size:11.6px;line-height:12px;transform:scaleX(0.855);">21:55</div>
<div class="tm" style="left:24.59px;top:367.91px;font-size:11.6px;line-height:12px;transform:scaleX(0.855);">21:45</div>
<div class="tm" style="left:97.39px;top:367.91px;font-size:11.6px;line-height:12px;transform:scaleX(0.855);">22:05</div>
<div class="tm" style="left:169.69px;top:367.91px;font-size:11.6px;line-height:12px;transform:scaleX(0.855);">22:25</div>
<div class="tm" style="left:24.59px;top:379.23px;font-size:11.6px;line-height:12px;transform:scaleX(0.855);">22:15</div>
<div class="tm" style="left:97.39px;top:379.23px;font-size:11.6px;line-height:12px;transform:scaleX(0.855);">22:35</div>
<div class="tm" style="left:169.69px;top:379.23px;font-size:11.6px;line-height:12px;transform:scaleX(0.855);">22:55</div>
<div class="tm" style="left:24.59px;top:390.55px;font-size:11.6px;line-height:12px;transform:scaleX(0.855);">22:45</div>
<div class="tm" style="left:97.39px;top:390.55px;font-size:11.6px;line-height:12px;transform:scaleX(0.855);">23:05</div>
<div class="tm" style="left:169.69px;top:390.55px;font-size:11.6px;line-height:12px;transform:scaleX(0.855);">23:25</div>
</div>
<div class="tbl" style="left:316.25px;top:981.75px;transform:scale(1);">
<div class="band" style="width:218.75px;height:19.5px;"></div>
<div class="bt" style="left:57.08px;top:3.68px;font-size:11.3px;line-height:13px;transform:scaleX(0.8330);">DIUMENGES I FESTIUS</div>
<div class="ln" style="left:0;top:0;width:1.4px;height:254.01px;"></div>
<div class="ln" style="left:217.35px;top:0;width:1.4px;height:254.01px;"></div>
<div class="ln" style="left:0;top:38.50px;width:218.75px;height:1.4px;"></div>
<div class="ln" style="left:0;top:252.91px;width:218.75px;height:1.1px;"></div>
<div class="ln" style="left:72.35px;top:19.5px;width:1.3px;height:234.51px;"></div>
<div class="ln" style="left:144.85px;top:19.5px;width:1.3px;height:234.51px;"></div>
<div class="ch" style="left:15.75px;top:23.55px;font-size:11.4px;line-height:13px;transform:scaleX(0.9226);">EIVISSA</div>
<div class="ch" style="left:77.55px;top:23.55px;font-size:11.4px;line-height:13px;transform:scaleX(0.8781);">SANT RAFEL</div>
<div class="ch" style="left:147.22px;top:23.55px;font-size:11.4px;line-height:13px;transform:scaleX(0.9033);">SANT ANTONI</div>
<div class="tm" style="left:27.35px;top:39.63px;font-size:11.6px;line-height:12px;transform:scaleX(0.855);">8:15</div>
<div class="tm" style="left:100.15px;top:39.63px;font-size:11.6px;line-height:12px;transform:scaleX(0.855);">8:35</div>
<div class="tm" style="left:172.45px;top:39.63px;font-size:11.6px;line-height:12px;transform:scaleX(0.855);">8:55</div>
<div class="tm" style="left:27.35px;top:50.95px;font-size:11.6px;line-height:12px;transform:scaleX(0.855);">9:00</div>
<div class="tm" style="left:100.15px;top:50.95px;font-size:11.6px;line-height:12px;transform:scaleX(0.855);">9:20</div>
<div class="tm" style="left:172.45px;top:50.95px;font-size:11.6px;line-height:12px;transform:scaleX(0.855);">9:40</div>
<div class="tm" style="left:27.35px;top:62.27px;font-size:11.6px;line-height:12px;transform:scaleX(0.855);">9:45</div>
<div class="tm" style="left:97.39px;top:62.27px;font-size:11.6px;line-height:12px;transform:scaleX(0.855);">10:05</div>
<div class="tm" style="left:169.69px;top:62.27px;font-size:11.6px;line-height:12px;transform:scaleX(0.855);">10:25</div>
<div class="tm" style="left:24.59px;top:73.59px;font-size:11.6px;line-height:12px;transform:scaleX(0.855);">10:30</div>
<div class="tm" style="left:97.39px;top:73.59px;font-size:11.6px;line-height:12px;transform:scaleX(0.855);">10:50</div>
<div class="tm" style="left:170.06px;top:73.59px;font-size:11.6px;line-height:12px;transform:scaleX(0.855);">11:10</div>
<div class="tm" style="left:24.96px;top:84.91px;font-size:11.6px;line-height:12px;transform:scaleX(0.855);">11:15</div>
<div class="tm" style="left:97.76px;top:84.91px;font-size:11.6px;line-height:12px;transform:scaleX(0.855);">11:35</div>
<div class="tm" style="left:170.06px;top:84.91px;font-size:11.6px;line-height:12px;transform:scaleX(0.855);">11:55</div>
<div class="tm" style="left:24.59px;top:96.23px;font-size:11.6px;line-height:12px;transform:scaleX(0.855);">12:00</div>
<div class="tm" style="left:97.39px;top:96.23px;font-size:11.6px;line-height:12px;transform:scaleX(0.855);">12:20</div>
<div class="tm" style="left:169.69px;top:96.23px;font-size:11.6px;line-height:12px;transform:scaleX(0.855);">12:40</div>
<div class="tm" style="left:24.59px;top:107.55px;font-size:11.6px;line-height:12px;transform:scaleX(0.855);">12:45</div>
<div class="tm" style="left:97.39px;top:107.55px;font-size:11.6px;line-height:12px;transform:scaleX(0.855);">13:05</div>
<div class="tm" style="left:169.69px;top:107.55px;font-size:11.6px;line-height:12px;transform:scaleX(0.855);">13:25</div>
<div class="tm" style="left:24.59px;top:118.87px;font-size:11.6px;line-height:12px;transform:scaleX(0.855);">13:30</div>
<div class="tm" style="left:97.39px;top:118.87px;font-size:11.6px;line-height:12px;transform:scaleX(0.855);">13:50</div>
<div class="tm" style="left:169.69px;top:118.87px;font-size:11.6px;line-height:12px;transform:scaleX(0.855);">14:10</div>
<div class="tm" style="left:24.59px;top:130.19px;font-size:11.6px;line-height:12px;transform:scaleX(0.855);">14:15</div>
<div class="tm" style="left:97.39px;top:130.19px;font-size:11.6px;line-height:12px;transform:scaleX(0.855);">14:35</div>
<div class="tm" style="left:169.69px;top:130.19px;font-size:11.6px;line-height:12px;transform:scaleX(0.855);">14:55</div>
<div class="tm" style="left:24.59px;top:141.51px;font-size:11.6px;line-height:12px;transform:scaleX(0.855);">15:00</div>
<div class="tm" style="left:97.39px;top:141.51px;font-size:11.6px;line-height:12px;transform:scaleX(0.855);">15:20</div>
<div class="tm" style="left:169.69px;top:141.51px;font-size:11.6px;line-height:12px;transform:scaleX(0.855);">15:40</div>
<div class="tm" style="left:24.59px;top:152.83px;font-size:11.6px;line-height:12px;transform:scaleX(0.855);">15:45</div>
<div class="tm" style="left:97.39px;top:152.83px;font-size:11.6px;line-height:12px;transform:scaleX(0.855);">16:05</div>
<div class="tm" style="left:169.69px;top:152.83px;font-size:11.6px;line-height:12px;transform:scaleX(0.855);">16:25</div>
<div class="tm" style="left:24.59px;top:164.15px;font-size:11.6px;line-height:12px;transform:scaleX(0.855);">16:30</div>
<div class="tm" style="left:97.39px;top:164.15px;font-size:11.6px;line-height:12px;transform:scaleX(0.855);">16:50</div>
<div class="tm" style="left:169.69px;top:164.15px;font-size:11.6px;line-height:12px;transform:scaleX(0.855);">17:10</div>
<div class="tm" style="left:24.59px;top:175.47px;font-size:11.6px;line-height:12px;transform:scaleX(0.855);">17:15</div>
<div class="tm" style="left:97.39px;top:175.47px;font-size:11.6px;line-height:12px;transform:scaleX(0.855);">17:35</div>
<div class="tm" style="left:169.69px;top:175.47px;font-size:11.6px;line-height:12px;transform:scaleX(0.855);">17:55</div>
<div class="tm" style="left:24.59px;top:186.79px;font-size:11.6px;line-height:12px;transform:scaleX(0.855);">18:00</div>
<div class="tm" style="left:97.39px;top:186.79px;font-size:11.6px;line-height:12px;transform:scaleX(0.855);">18:20</div>
<div class="tm" style="left:169.69px;top:186.79px;font-size:11.6px;line-height:12px;transform:scaleX(0.855);">18:40</div>
<div class="tm" style="left:24.59px;top:198.11px;font-size:11.6px;line-height:12px;transform:scaleX(0.855);">18:45</div>
<div class="tm" style="left:97.39px;top:198.11px;font-size:11.6px;line-height:12px;transform:scaleX(0.855);">19:05</div>
<div class="tm" style="left:169.69px;top:198.11px;font-size:11.6px;line-height:12px;transform:scaleX(0.855);">19:25</div>
<div class="tm" style="left:24.59px;top:209.43px;font-size:11.6px;line-height:12px;transform:scaleX(0.855);">19:30</div>
<div class="tm" style="left:97.39px;top:209.43px;font-size:11.6px;line-height:12px;transform:scaleX(0.855);">19:50</div>
<div class="tm" style="left:169.69px;top:209.43px;font-size:11.6px;line-height:12px;transform:scaleX(0.855);">20:10</div>
<div class="tm" style="left:24.59px;top:220.75px;font-size:11.6px;line-height:12px;transform:scaleX(0.855);">20:15</div>
<div class="tm" style="left:97.39px;top:220.75px;font-size:11.6px;line-height:12px;transform:scaleX(0.855);">20:35</div>
<div class="tm" style="left:169.69px;top:220.75px;font-size:11.6px;line-height:12px;transform:scaleX(0.855);">20:55</div>
<div class="tm" style="left:24.59px;top:232.07px;font-size:11.6px;line-height:12px;transform:scaleX(0.855);">21:00</div>
<div class="tm" style="left:97.39px;top:232.07px;font-size:11.6px;line-height:12px;transform:scaleX(0.855);">21:20</div>
<div class="tm" style="left:169.69px;top:232.07px;font-size:11.6px;line-height:12px;transform:scaleX(0.855);">21:40</div>
<div class="tm" style="left:24.59px;top:243.39px;font-size:11.6px;line-height:12px;transform:scaleX(0.855);">21:45</div>
<div class="tm" style="left:97.39px;top:243.39px;font-size:11.6px;line-height:12px;transform:scaleX(0.855);">22:05</div>
<div class="tm" style="left:169.69px;top:243.39px;font-size:11.6px;line-height:12px;transform:scaleX(0.855);">22:25</div>
</div>
<div class="tbl" style="left:567.5px;top:980px;transform:scale(0.943);">
<div class="band" style="width:219.20000000000002px;height:19.9px;"></div>
<div class="bt" style="left:34.95px;top:4.08px;font-size:11.3px;line-height:13px;transform:scaleX(0.8324);">DILLUNS A DISSABTES FEINERS</div>
<div class="ln" style="left:0;top:0;width:1.4px;height:412.69px;"></div>
<div class="ln" style="left:217.80px;top:0;width:1.4px;height:412.69px;"></div>
<div class="ln" style="left:0;top:39.30px;width:219.20000000000002px;height:1.4px;"></div>
<div class="ln" style="left:0;top:411.59px;width:219.20000000000002px;height:1.1px;"></div>
<div class="ln" style="left:72.75px;top:19.9px;width:1.3px;height:392.79px;"></div>
<div class="ln" style="left:145.15px;top:19.9px;width:1.3px;height:392.79px;"></div>
<div class="ch" style="left:1.80px;top:24.35px;font-size:11.4px;line-height:13px;transform:scaleX(0.9033);">SANT ANTONI</div>
<div class="ch" style="left:77.90px;top:24.35px;font-size:11.4px;line-height:13px;transform:scaleX(0.8781);">SANT RAFEL</div>
<div class="ch" style="left:161.75px;top:24.35px;font-size:11.4px;line-height:13px;transform:scaleX(0.9226);">EIVISSA</div>
<div class="tm" style="left:27.35px;top:39.83px;font-size:11.6px;line-height:12px;transform:scaleX(0.855);">6:30</div>
<div class="tm" style="left:100.15px;top:39.83px;font-size:11.6px;line-height:12px;transform:scaleX(0.855);">6:47</div>
<div class="tm" style="left:172.45px;top:39.83px;font-size:11.6px;line-height:12px;transform:scaleX(0.855);">7:15</div>
<div class="tm" style="left:27.35px;top:51.15px;font-size:11.6px;line-height:12px;transform:scaleX(0.855);">7:00</div>
<div class="tm" style="left:100.15px;top:51.15px;font-size:11.6px;line-height:12px;transform:scaleX(0.855);">7:17</div>
<div class="tm" style="left:172.45px;top:51.15px;font-size:11.6px;line-height:12px;transform:scaleX(0.855);">7:45</div>
<div class="tm" style="left:27.35px;top:62.47px;font-size:11.6px;line-height:12px;transform:scaleX(0.855);">7:30</div>
<div class="tm" style="left:100.15px;top:62.47px;font-size:11.6px;line-height:12px;transform:scaleX(0.855);">7:47</div>
<div class="tm" style="left:172.45px;top:62.47px;font-size:11.6px;line-height:12px;transform:scaleX(0.855);">8:15</div>
<div class="tm" style="left:27.35px;top:73.79px;font-size:11.6px;line-height:12px;transform:scaleX(0.855);">8:00</div>
<div class="tm" style="left:100.15px;top:73.79px;font-size:11.6px;line-height:12px;transform:scaleX(0.855);">8:17</div>
<div class="tm" style="left:172.45px;top:73.79px;font-size:11.6px;line-height:12px;transform:scaleX(0.855);">8:45</div>
<div class="tm" style="left:27.35px;top:85.11px;font-size:11.6px;line-height:12px;transform:scaleX(0.855);">8:30</div>
<div class="tm" style="left:100.15px;top:85.11px;font-size:11.6px;line-height:12px;transform:scaleX(0.855);">8:47</div>
<div class="tm" style="left:172.45px;top:85.11px;font-size:11.6px;line-height:12px;transform:scaleX(0.855);">9:15</div>
<div class="tm" style="left:27.35px;top:96.43px;font-size:11.6px;line-height:12px;transform:scaleX(0.855);">9:00</div>
<div class="tm" style="left:100.15px;top:96.43px;font-size:11.6px;line-height:12px;transform:scaleX(0.855);">9:17</div>
<div class="tm" style="left:172.45px;top:96.43px;font-size:11.6px;line-height:12px;transform:scaleX(0.855);">9:45</div>
<div class="tm" style="left:27.35px;top:107.75px;font-size:11.6px;line-height:12px;transform:scaleX(0.855);">9:30</div>
<div class="tm" style="left:100.15px;top:107.75px;font-size:11.6px;line-height:12px;transform:scaleX(0.855);">9:47</div>
<div class="tm" style="left:169.69px;top:107.75px;font-size:11.6px;line-height:12px;transform:scaleX(0.855);">10:15</div>
<div class="tm" style="left:24.59px;top:119.07px;font-size:11.6px;line-height:12px;transform:scaleX(0.855);">10:00</div>
<div class="tm" style="left:97.39px;top:119.07px;font-size:11.6px;line-height:12px;transform:scaleX(0.855);">10:17</div>
<div class="tm" style="left:169.69px;top:119.07px;font-size:11.6px;line-height:12px;transform:scaleX(0.855);">10:45</div>
<div class="tm" style="left:24.59px;top:130.39px;font-size:11.6px;line-height:12px;transform:scaleX(0.855);">10:30</div>
<div class="tm" style="left:97.39px;top:130.39px;font-size:11.6px;line-height:12px;transform:scaleX(0.855);">10:47</div>
<div class="tm" style="left:170.06px;top:130.39px;font-size:11.6px;line-height:12px;transform:scaleX(0.855);">11:15</div>
<div class="tm" style="left:24.96px;top:141.71px;font-size:11.6px;line-height:12px;transform:scaleX(0.855);">11:00</div>
<div class="tm" style="left:97.76px;top:141.71px;font-size:11.6px;line-height:12px;transform:scaleX(0.855);">11:17</div>
<div class="tm" style="left:170.06px;top:141.71px;font-size:11.6px;line-height:12px;transform:scaleX(0.855);">11:45</div>
<div class="tm" style="left:24.96px;top:153.03px;font-size:11.6px;line-height:12px;transform:scaleX(0.855);">11:30</div>
<div class="tm" style="left:97.76px;top:153.03px;font-size:11.6px;line-height:12px;transform:scaleX(0.855);">11:47</div>
<div class="tm" style="left:169.69px;top:153.03px;font-size:11.6px;line-height:12px;transform:scaleX(0.855);">12:15</div>
<div class="tm" style="left:24.59px;top:164.35px;font-size:11.6px;line-height:12px;transform:scaleX(0.855);">12:00</div>
<div class="tm" style="left:97.39px;top:164.35px;font-size:11.6px;line-height:12px;transform:scaleX(0.855);">12:17</div>
<div class="tm" style="left:169.69px;top:164.35px;font-size:11.6px;line-height:12px;transform:scaleX(0.855);">12:45</div>
<div class="tm" style="left:24.59px;top:175.67px;font-size:11.6px;line-height:12px;transform:scaleX(0.855);">12:30</div>
<div class="tm" style="left:97.39px;top:175.67px;font-size:11.6px;line-height:12px;transform:scaleX(0.855);">12:47</div>
<div class="tm" style="left:169.69px;top:175.67px;font-size:11.6px;line-height:12px;transform:scaleX(0.855);">13:15</div>
<div class="tm" style="left:24.59px;top:186.99px;font-size:11.6px;line-height:12px;transform:scaleX(0.855);">13:00</div>
<div class="tm" style="left:97.39px;top:186.99px;font-size:11.6px;line-height:12px;transform:scaleX(0.855);">13:17</div>
<div class="tm" style="left:169.69px;top:186.99px;font-size:11.6px;line-height:12px;transform:scaleX(0.855);">13:45</div>
<div class="tm" style="left:24.59px;top:198.31px;font-size:11.6px;line-height:12px;transform:scaleX(0.855);">13:30</div>
<div class="tm" style="left:97.39px;top:198.31px;font-size:11.6px;line-height:12px;transform:scaleX(0.855);">13:47</div>
<div class="tm" style="left:169.69px;top:198.31px;font-size:11.6px;line-height:12px;transform:scaleX(0.855);">14:15</div>
<div class="tm" style="left:24.59px;top:209.63px;font-size:11.6px;line-height:12px;transform:scaleX(0.855);">14:00</div>
<div class="tm" style="left:97.39px;top:209.63px;font-size:11.6px;line-height:12px;transform:scaleX(0.855);">14:17</div>
<div class="tm" style="left:169.69px;top:209.63px;font-size:11.6px;line-height:12px;transform:scaleX(0.855);">14:45</div>
<div class="tm" style="left:24.59px;top:220.95px;font-size:11.6px;line-height:12px;transform:scaleX(0.855);">14:30</div>
<div class="tm" style="left:97.39px;top:220.95px;font-size:11.6px;line-height:12px;transform:scaleX(0.855);">14:47</div>
<div class="tm" style="left:169.69px;top:220.95px;font-size:11.6px;line-height:12px;transform:scaleX(0.855);">15:15</div>
<div class="tm" style="left:24.59px;top:232.27px;font-size:11.6px;line-height:12px;transform:scaleX(0.855);">15:00</div>
<div class="tm" style="left:97.39px;top:232.27px;font-size:11.6px;line-height:12px;transform:scaleX(0.855);">15:17</div>
<div class="tm" style="left:169.69px;top:232.27px;font-size:11.6px;line-height:12px;transform:scaleX(0.855);">15:45</div>
<div class="tm" style="left:24.59px;top:243.59px;font-size:11.6px;line-height:12px;transform:scaleX(0.855);">15:30</div>
<div class="tm" style="left:97.39px;top:243.59px;font-size:11.6px;line-height:12px;transform:scaleX(0.855);">15:47</div>
<div class="tm" style="left:169.69px;top:243.59px;font-size:11.6px;line-height:12px;transform:scaleX(0.855);">16:15</div>
<div class="tm" style="left:24.59px;top:254.91px;font-size:11.6px;line-height:12px;transform:scaleX(0.855);">16:00</div>
<div class="tm" style="left:97.39px;top:254.91px;font-size:11.6px;line-height:12px;transform:scaleX(0.855);">16:17</div>
<div class="tm" style="left:169.69px;top:254.91px;font-size:11.6px;line-height:12px;transform:scaleX(0.855);">16:45</div>
<div class="tm" style="left:24.59px;top:266.23px;font-size:11.6px;line-height:12px;transform:scaleX(0.855);">16:30</div>
<div class="tm" style="left:97.39px;top:266.23px;font-size:11.6px;line-height:12px;transform:scaleX(0.855);">16:47</div>
<div class="tm" style="left:169.69px;top:266.23px;font-size:11.6px;line-height:12px;transform:scaleX(0.855);">17:15</div>
<div class="tm" style="left:24.59px;top:277.55px;font-size:11.6px;line-height:12px;transform:scaleX(0.855);">17:00</div>
<div class="tm" style="left:97.39px;top:277.55px;font-size:11.6px;line-height:12px;transform:scaleX(0.855);">17:17</div>
<div class="tm" style="left:169.69px;top:277.55px;font-size:11.6px;line-height:12px;transform:scaleX(0.855);">17:45</div>
<div class="tm" style="left:24.59px;top:288.87px;font-size:11.6px;line-height:12px;transform:scaleX(0.855);">17:30</div>
<div class="tm" style="left:97.39px;top:288.87px;font-size:11.6px;line-height:12px;transform:scaleX(0.855);">17:47</div>
<div class="tm" style="left:169.69px;top:288.87px;font-size:11.6px;line-height:12px;transform:scaleX(0.855);">18:15</div>
<div class="tm" style="left:24.59px;top:300.19px;font-size:11.6px;line-height:12px;transform:scaleX(0.855);">18:00</div>
<div class="tm" style="left:97.39px;top:300.19px;font-size:11.6px;line-height:12px;transform:scaleX(0.855);">18:17</div>
<div class="tm" style="left:169.69px;top:300.19px;font-size:11.6px;line-height:12px;transform:scaleX(0.855);">18:45</div>
<div class="tm" style="left:24.59px;top:311.51px;font-size:11.6px;line-height:12px;transform:scaleX(0.855);">18:30</div>
<div class="tm" style="left:97.39px;top:311.51px;font-size:11.6px;line-height:12px;transform:scaleX(0.855);">18:47</div>
<div class="tm" style="left:169.69px;top:311.51px;font-size:11.6px;line-height:12px;transform:scaleX(0.855);">19:15</div>
<div class="tm" style="left:24.59px;top:322.83px;font-size:11.6px;line-height:12px;transform:scaleX(0.855);">19:00</div>
<div class="tm" style="left:97.39px;top:322.83px;font-size:11.6px;line-height:12px;transform:scaleX(0.855);">19:17</div>
<div class="tm" style="left:169.69px;top:322.83px;font-size:11.6px;line-height:12px;transform:scaleX(0.855);">19:45</div>
<div class="tm" style="left:24.59px;top:334.15px;font-size:11.6px;line-height:12px;transform:scaleX(0.855);">19:30</div>
<div class="tm" style="left:97.39px;top:334.15px;font-size:11.6px;line-height:12px;transform:scaleX(0.855);">19:47</div>
<div class="tm" style="left:169.69px;top:334.15px;font-size:11.6px;line-height:12px;transform:scaleX(0.855);">20:15</div>
<div class="tm" style="left:24.59px;top:345.47px;font-size:11.6px;line-height:12px;transform:scaleX(0.855);">20:00</div>
<div class="tm" style="left:97.39px;top:345.47px;font-size:11.6px;line-height:12px;transform:scaleX(0.855);">20:17</div>
<div class="tm" style="left:169.69px;top:345.47px;font-size:11.6px;line-height:12px;transform:scaleX(0.855);">20:45</div>
<div class="tm" style="left:24.59px;top:356.79px;font-size:11.6px;line-height:12px;transform:scaleX(0.855);">20:30</div>
<div class="tm" style="left:97.39px;top:356.79px;font-size:11.6px;line-height:12px;transform:scaleX(0.855);">20:47</div>
<div class="tm" style="left:169.69px;top:356.79px;font-size:11.6px;line-height:12px;transform:scaleX(0.855);">21:15</div>
<div class="tm" style="left:24.59px;top:368.11px;font-size:11.6px;line-height:12px;transform:scaleX(0.855);">21:00</div>
<div class="tm" style="left:97.39px;top:368.11px;font-size:11.6px;line-height:12px;transform:scaleX(0.855);">21:17</div>
<div class="tm" style="left:169.69px;top:368.11px;font-size:11.6px;line-height:12px;transform:scaleX(0.855);">21:45</div>
<div class="tm" style="left:24.59px;top:379.43px;font-size:11.6px;line-height:12px;transform:scaleX(0.855);">21:30</div>
<div class="tm" style="left:97.39px;top:379.43px;font-size:11.6px;line-height:12px;transform:scaleX(0.855);">21:47</div>
<div class="tm" style="left:169.69px;top:379.43px;font-size:11.6px;line-height:12px;transform:scaleX(0.855);">22:15</div>
<div class="tm" style="left:24.59px;top:390.75px;font-size:11.6px;line-height:12px;transform:scaleX(0.855);">22:00</div>
<div class="tm" style="left:97.39px;top:390.75px;font-size:11.6px;line-height:12px;transform:scaleX(0.855);">22:17</div>
<div class="tm" style="left:169.69px;top:390.75px;font-size:11.6px;line-height:12px;transform:scaleX(0.855);">22:45</div>
<div class="tm" style="left:24.59px;top:402.07px;font-size:11.6px;line-height:12px;transform:scaleX(0.855);">22:30</div>
<div class="tm" style="left:97.39px;top:402.07px;font-size:11.6px;line-height:12px;transform:scaleX(0.855);">22:47</div>
<div class="tm" style="left:169.69px;top:402.07px;font-size:11.6px;line-height:12px;transform:scaleX(0.855);">23:15</div>
</div>
<div class="tbl" style="left:815px;top:980px;transform:scale(0.943);">
<div class="band" style="width:218.7px;height:19.9px;"></div>
<div class="bt" style="left:57.05px;top:4.08px;font-size:11.3px;line-height:13px;transform:scaleX(0.8330);">DIUMENGES I FESTIUS</div>
<div class="ln" style="left:0;top:0;width:1.4px;height:276.85px;"></div>
<div class="ln" style="left:217.30px;top:0;width:1.4px;height:276.85px;"></div>
<div class="ln" style="left:0;top:39.30px;width:218.7px;height:1.4px;"></div>
<div class="ln" style="left:0;top:275.75px;width:218.7px;height:1.1px;"></div>
<div class="ln" style="left:72.25px;top:19.9px;width:1.3px;height:256.95px;"></div>
<div class="ln" style="left:144.35px;top:19.9px;width:1.3px;height:256.95px;"></div>
<div class="ch" style="left:1.55px;top:24.35px;font-size:11.4px;line-height:13px;transform:scaleX(0.9033);">SANT ANTONI</div>
<div class="ch" style="left:77.25px;top:24.35px;font-size:11.4px;line-height:13px;transform:scaleX(0.8781);">SANT RAFEL</div>
<div class="ch" style="left:161.10px;top:24.35px;font-size:11.4px;line-height:13px;transform:scaleX(0.9226);">EIVISSA</div>
<div class="tm" style="left:27.35px;top:39.83px;font-size:11.6px;line-height:12px;transform:scaleX(0.855);">7:30</div>
<div class="tm" style="left:100.15px;top:39.83px;font-size:11.6px;line-height:12px;transform:scaleX(0.855);">7:47</div>
<div class="tm" style="left:172.45px;top:39.83px;font-size:11.6px;line-height:12px;transform:scaleX(0.855);">8:15</div>
<div class="tm" style="left:27.35px;top:51.15px;font-size:11.6px;line-height:12px;transform:scaleX(0.855);">8:15</div>
<div class="tm" style="left:100.15px;top:51.15px;font-size:11.6px;line-height:12px;transform:scaleX(0.855);">8:32</div>
<div class="tm" style="left:172.45px;top:51.15px;font-size:11.6px;line-height:12px;transform:scaleX(0.855);">9:00</div>
<div class="tm" style="left:27.35px;top:62.47px;font-size:11.6px;line-height:12px;transform:scaleX(0.855);">9:00</div>
<div class="tm" style="left:100.15px;top:62.47px;font-size:11.6px;line-height:12px;transform:scaleX(0.855);">9:17</div>
<div class="tm" style="left:172.45px;top:62.47px;font-size:11.6px;line-height:12px;transform:scaleX(0.855);">9:45</div>
<div class="tm" style="left:27.35px;top:73.79px;font-size:11.6px;line-height:12px;transform:scaleX(0.855);">9:45</div>
<div class="tm" style="left:97.39px;top:73.79px;font-size:11.6px;line-height:12px;transform:scaleX(0.855);">10:02</div>
<div class="tm" style="left:169.69px;top:73.79px;font-size:11.6px;line-height:12px;transform:scaleX(0.855);">10:30</div>
<div class="tm" style="left:24.59px;top:85.11px;font-size:11.6px;line-height:12px;transform:scaleX(0.855);">10:30</div>
<div class="tm" style="left:97.39px;top:85.11px;font-size:11.6px;line-height:12px;transform:scaleX(0.855);">10:47</div>
<div class="tm" style="left:170.06px;top:85.11px;font-size:11.6px;line-height:12px;transform:scaleX(0.855);">11:15</div>
<div class="tm" style="left:24.96px;top:96.43px;font-size:11.6px;line-height:12px;transform:scaleX(0.855);">11:15</div>
<div class="tm" style="left:97.76px;top:96.43px;font-size:11.6px;line-height:12px;transform:scaleX(0.855);">11:32</div>
<div class="tm" style="left:169.69px;top:96.43px;font-size:11.6px;line-height:12px;transform:scaleX(0.855);">12:00</div>
<div class="tm" style="left:24.59px;top:107.75px;font-size:11.6px;line-height:12px;transform:scaleX(0.855);">12:00</div>
<div class="tm" style="left:97.39px;top:107.75px;font-size:11.6px;line-height:12px;transform:scaleX(0.855);">12:17</div>
<div class="tm" style="left:169.69px;top:107.75px;font-size:11.6px;line-height:12px;transform:scaleX(0.855);">12:45</div>
<div class="tm" style="left:24.59px;top:119.07px;font-size:11.6px;line-height:12px;transform:scaleX(0.855);">12:45</div>
<div class="tm" style="left:97.39px;top:119.07px;font-size:11.6px;line-height:12px;transform:scaleX(0.855);">13:02</div>
<div class="tm" style="left:169.69px;top:119.07px;font-size:11.6px;line-height:12px;transform:scaleX(0.855);">13:30</div>
<div class="tm" style="left:24.59px;top:130.39px;font-size:11.6px;line-height:12px;transform:scaleX(0.855);">13:30</div>
<div class="tm" style="left:97.39px;top:130.39px;font-size:11.6px;line-height:12px;transform:scaleX(0.855);">13:47</div>
<div class="tm" style="left:169.69px;top:130.39px;font-size:11.6px;line-height:12px;transform:scaleX(0.855);">14:15</div>
<div class="tm" style="left:24.59px;top:141.71px;font-size:11.6px;line-height:12px;transform:scaleX(0.855);">14:15</div>
<div class="tm" style="left:97.39px;top:141.71px;font-size:11.6px;line-height:12px;transform:scaleX(0.855);">14:32</div>
<div class="tm" style="left:169.69px;top:141.71px;font-size:11.6px;line-height:12px;transform:scaleX(0.855);">15:00</div>
<div class="tm" style="left:24.59px;top:153.03px;font-size:11.6px;line-height:12px;transform:scaleX(0.855);">15:00</div>
<div class="tm" style="left:97.39px;top:153.03px;font-size:11.6px;line-height:12px;transform:scaleX(0.855);">15:17</div>
<div class="tm" style="left:169.69px;top:153.03px;font-size:11.6px;line-height:12px;transform:scaleX(0.855);">15:45</div>
<div class="tm" style="left:24.59px;top:164.35px;font-size:11.6px;line-height:12px;transform:scaleX(0.855);">15:45</div>
<div class="tm" style="left:97.39px;top:164.35px;font-size:11.6px;line-height:12px;transform:scaleX(0.855);">16:02</div>
<div class="tm" style="left:169.69px;top:164.35px;font-size:11.6px;line-height:12px;transform:scaleX(0.855);">16:30</div>
<div class="tm" style="left:24.59px;top:175.67px;font-size:11.6px;line-height:12px;transform:scaleX(0.855);">16:30</div>
<div class="tm" style="left:97.39px;top:175.67px;font-size:11.6px;line-height:12px;transform:scaleX(0.855);">16:47</div>
<div class="tm" style="left:169.69px;top:175.67px;font-size:11.6px;line-height:12px;transform:scaleX(0.855);">17:15</div>
<div class="tm" style="left:24.59px;top:186.99px;font-size:11.6px;line-height:12px;transform:scaleX(0.855);">17:15</div>
<div class="tm" style="left:97.39px;top:186.99px;font-size:11.6px;line-height:12px;transform:scaleX(0.855);">17:32</div>
<div class="tm" style="left:169.69px;top:186.99px;font-size:11.6px;line-height:12px;transform:scaleX(0.855);">18:00</div>
<div class="tm" style="left:24.59px;top:198.31px;font-size:11.6px;line-height:12px;transform:scaleX(0.855);">18:00</div>
<div class="tm" style="left:97.39px;top:198.31px;font-size:11.6px;line-height:12px;transform:scaleX(0.855);">18:17</div>
<div class="tm" style="left:169.69px;top:198.31px;font-size:11.6px;line-height:12px;transform:scaleX(0.855);">18:45</div>
<div class="tm" style="left:24.59px;top:209.63px;font-size:11.6px;line-height:12px;transform:scaleX(0.855);">18:45</div>
<div class="tm" style="left:97.39px;top:209.63px;font-size:11.6px;line-height:12px;transform:scaleX(0.855);">19:02</div>
<div class="tm" style="left:169.69px;top:209.63px;font-size:11.6px;line-height:12px;transform:scaleX(0.855);">19:30</div>
<div class="tm" style="left:24.59px;top:220.95px;font-size:11.6px;line-height:12px;transform:scaleX(0.855);">19:30</div>
<div class="tm" style="left:97.39px;top:220.95px;font-size:11.6px;line-height:12px;transform:scaleX(0.855);">19:47</div>
<div class="tm" style="left:169.69px;top:220.95px;font-size:11.6px;line-height:12px;transform:scaleX(0.855);">20:15</div>
<div class="tm" style="left:24.59px;top:232.27px;font-size:11.6px;line-height:12px;transform:scaleX(0.855);">20:15</div>
<div class="tm" style="left:97.39px;top:232.27px;font-size:11.6px;line-height:12px;transform:scaleX(0.855);">20:32</div>
<div class="tm" style="left:169.69px;top:232.27px;font-size:11.6px;line-height:12px;transform:scaleX(0.855);">21:00</div>
<div class="tm" style="left:24.59px;top:243.59px;font-size:11.6px;line-height:12px;transform:scaleX(0.855);">21:00</div>
<div class="tm" style="left:97.39px;top:243.59px;font-size:11.6px;line-height:12px;transform:scaleX(0.855);">21:17</div>
<div class="tm" style="left:169.69px;top:243.59px;font-size:11.6px;line-height:12px;transform:scaleX(0.855);">21:45</div>
<div class="tm" style="left:24.59px;top:254.91px;font-size:11.6px;line-height:12px;transform:scaleX(0.855);">21:45</div>
<div class="tm" style="left:97.39px;top:254.91px;font-size:11.6px;line-height:12px;transform:scaleX(0.855);">22:02</div>
<div class="tm" style="left:169.69px;top:254.91px;font-size:11.6px;line-height:12px;transform:scaleX(0.855);">22:30</div>
<div class="tm" style="left:24.59px;top:266.23px;font-size:11.6px;line-height:12px;transform:scaleX(0.855);">22:30</div>
<div class="tm" style="left:97.39px;top:266.23px;font-size:11.6px;line-height:12px;transform:scaleX(0.855);">22:47</div>
<div class="tm" style="left:169.69px;top:266.23px;font-size:11.6px;line-height:12px;transform:scaleX(0.855);">23:15</div>
</div>
</div></body></html>
